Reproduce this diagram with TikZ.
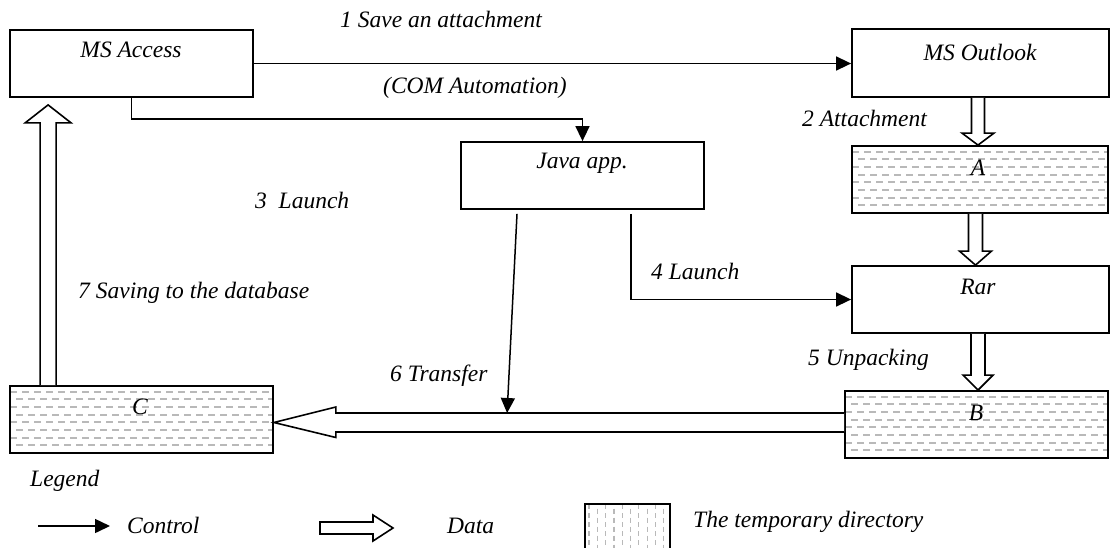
\documentclass[tikz,border=0pt]{standalone}
\usepackage{fontspec}
\setmainfont{Liberation Serif}
\usetikzlibrary{arrows.meta,calc}
\definecolor{hatchcol}{RGB}{185,185,185}
\tikzset{
  box/.style={draw, line width=1.8pt, fill=white, inner sep=0pt},
  hatchH/.style={path picture={
    \foreach \yy in {5.7,21,36.3,51.7}{
      \draw[hatchcol, line width=1.8pt, dash pattern=on 6.5pt off 5.5pt]
        ([yshift=-\yy pt]path picture bounding box.north west) -- ([yshift=-\yy pt]path picture bounding box.north east);}
    \foreach \yy in {13.3,28.7,44,59.3}{
      \draw[hatchcol, line width=1.8pt, dash pattern=on 6.5pt off 5.5pt, dash phase=6pt]
        ([yshift=-\yy pt]path picture bounding box.north west) -- ([yshift=-\yy pt]path picture bounding box.north east);}
  }},
  hatchV/.style={path picture={
    \foreach \xx in {4,20.6,37.2,53.8,70.4}{
      \draw[hatchcol, line width=1.2pt, dash pattern=on 5pt off 4pt]
        ([xshift=\xx pt]path picture bounding box.north west) -- ([xshift=\xx pt]path picture bounding box.south west);}
    \foreach \xx in {12.3,28.9,45.5,62.1,78.7}{
      \draw[hatchcol, line width=1.2pt, dash pattern=on 5pt off 4pt, dash phase=4.5pt]
        ([xshift=\xx pt]path picture bounding box.north west) -- ([xshift=\xx pt]path picture bounding box.south west);}
  }},
  ctrl/.style={line width=1.5pt, -{Triangle[length=15pt,width=14pt]}},
  data/.style={line width=1.6pt, fill=white, line join=miter},
  lbl/.style={font=\fontsize{23.5}{27}\selectfont\itshape, inner sep=0pt},
  lblw/.style={lbl, anchor=west},
}
\begin{document}
\begin{tikzpicture}[x=1pt,y=-1pt]
\useasboundingbox (0,0) rectangle (1110,547);

% boxes
\node[box, minimum width=243pt, minimum height=67pt] (access) at (131.5,63.5) {};
\node[box, minimum width=257pt, minimum height=68pt] (outlook) at (980.5,63) {};
\node[box, hatchH, minimum width=256pt, minimum height=67pt] (A) at (980,179.5) {};
\node[box, minimum width=257pt, minimum height=67pt] (rar) at (980.5,299.5) {};
\node[box, hatchH, minimum width=263pt, minimum height=67pt] (B) at (976.5,424.5) {};
\node[box, hatchH, minimum width=263pt, minimum height=67pt] (C) at (141.5,419.5) {};
\node[box, minimum width=243pt, minimum height=67pt] (java) at (582.5,175.5) {};

% box labels
\node[lbl] (accessT) at (131,50) {MS Access};
\node[lbl] (outlookT) at (980,52) {MS Outlook};
\node[lbl] (javaT) at (582,163) {Java app.};
\node[lbl] (AT) at (978,168) {A};
\node[lbl] (rarT) at (978,287) {Rar};
\node[lbl] (BT) at (976,413) {B};
\node[lbl] (CT) at (140,407) {C};

% control connectors
\draw[ctrl] (access.east) -- (access.east -| outlook.west);
\draw[ctrl] (access.south) -- ++(0,21) -| (java.north);
\coordinate (j4) at ($(java.south)+(48.5,4)$);
\draw[ctrl] (j4) |- (rar.west);
\coordinate (j6) at ($(java.south)+(-65.5,4)$);
\coordinate (tIn) at ($(B.west)+(-337,-11.5)$);
\draw[ctrl] (j6) -- (tIn);

% data arrows (vertical, down)
\coordinate (d1s) at ($(outlook.south)+(-2.5,0)$);
\coordinate (d1e) at ($(A.north)+(-2,0)$);
\draw[data] ($(d1s)+(-6.5,0)$) -- ($(d1e)+(-6.5,-12)$) -- ++(-9.5,0) -- (d1e) -- ++(16,-12) -- ++(-9.5,0) -- ($(d1s)+(6.5,0)$);

\coordinate (d2s) at ($(A.south)+(-4.5,0)$);
\coordinate (d2e) at ($(rar.north)+(-5,0)$);
\draw[data] ($(d2s)+(-7,0)$) -- ($(d2e)+(-7,-14)$) -- ++(-9,0) -- (d2e) -- ++(16,-14) -- ++(-9,0) -- ($(d2s)+(7,0)$);

\coordinate (d3s) at ($(rar.south)+(-2.5,0)$);
\coordinate (d3e) at ($(B.north)+(1.5,0)$);
\draw[data] ($(d3s)+(-7,0)$) -- ($(d3e)+(-7,-15)$) -- ++(-8,0) -- (d3e) -- ++(15,-15) -- ++(-8,0) -- ($(d3s)+(7,0)$);

% data arrow B -> C
\coordinate (d4s) at ($(B.west)+(0,-2)$);
\coordinate (d4e) at ($(C.east)+(0,3)$);
\draw[data] ($(d4s)+(0,-9.5)$) -- ($(d4e)+(62,-9.5)$) -- ++(0,-6) -- (d4e) -- ++(62,15) -- ++(0,-5.5) -- ($(d4s)+(0,9.5)$);

% data arrow C -> MS Access
\coordinate (d5s) at ($(C.north west)+(39,0)$);
\coordinate (d5e) at ($(access.south west)+(39,7)$);
\draw[data] ($(d5s)+(-8,0)$) -- ($(d5e)+(-8,18)$) -- ++(-15,0) -- (d5e) -- ++(23,18) -- ++(-15,0) -- ($(d5s)+(8,0)$);

% connector labels
\node[lblw] (t1) at (340,19) {1 Save an attachment};
\node[lblw] (t2) at (383,88) {(COM Automation)};
\node[lblw] (t3) at (802,118) {2 Attachment};
\node[lblw] (t4) at (255,200) {3\ \ Launch};
\node[lblw] (t5) at (651,271) {4 Launch};
\node[lblw] (t6) at (808,360) {5 Unpacking};
\node[lblw] (t7) at (390,376) {6 Transfer};
\node[lblw] (t8) at (78,293) {7 Saving to the database};

% legend
\node[lblw] (legend) at (30,481) {Legend};
\coordinate (lc1) at (38,526);
\coordinate (lc2) at (110,526);
\draw[ctrl] (lc1) -- (lc2);
\node[lblw] (lcT) at (127,525) {Control};
\coordinate (ld1) at (320,528);
\coordinate (ld2) at (393,528);
\draw[data] ($(ld1)+(0,-6)$) -- ($(ld2)+(-20,-6)$) -- ++(0,-7) -- (ld2) -- ++(-20,13) -- ++(0,-7) -- ($(ld1)+(0,6)$) -- cycle;
\node[lblw] (ldT) at (447,526) {Data};
\node[box, hatchV, minimum width=85pt, minimum height=56pt] (ltmp) at (627.5,532) {};
\node[lblw] (ltT) at (693,522) {The temporary directory};
\end{tikzpicture}
\end{document}
